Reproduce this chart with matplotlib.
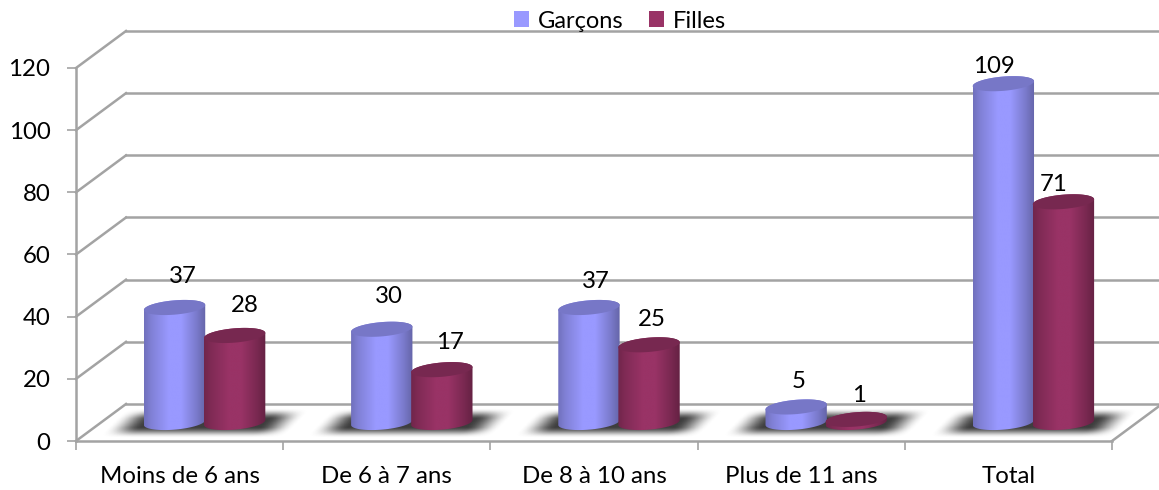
import matplotlib
matplotlib.use("Agg")
import matplotlib.pyplot as plt
from matplotlib.colors import to_rgb
from matplotlib.patches import Patch, Polygon
import numpy as np

CATEGORIES = ["Moins de 6 ans", "De 6 à 7 ans", "De 8 à 10 ans", "Plus de 11 ans", "Total"]
GARCONS = [37, 30, 37, 5, 109]
FILLES = [28, 17, 25, 1, 71]
Y_TICKS = [0, 20, 40, 60, 80, 100, 120]

BLUE = "#9999FF"
PLUM = "#993366"
GRID = "#A3A3A3"
FS = 17.3
W, H = 1159, 490

# pixel layout of the fake 3D box
LEFT, RIGHT, BOTTOM, TOP = 76, 1112, 441, 68
DX = 50 / ((RIGHT - LEFT) / 5)
DY = 37 / ((BOTTOM - TOP) / 120)
HALF_W = 0.148
BAR_GAP = 0.145
ELL_H = 2.3
SLOPE = 0.8

# label offsets from the top of each cylinder, in points
OFFS_G = [(6, 15), (5, 16), (5, 11), (2, 11), (-7, 5)]
OFFS_F = [(7, 14), (6, 12), (2, 11), (2, 10), (-7, 5)]

plt.rcParams["font.family"] = ["Lato", "DejaVu Sans"]


def ellipse(cx, cy, n=80):
    t = np.linspace(0, 2 * np.pi, n)
    return np.column_stack([cx + HALF_W * np.cos(t),
                            cy + ELL_H * np.sin(t) + SLOPE * np.cos(t)])


def body_path(cx, y0, y1, n=40):
    t = np.linspace(np.pi, 2 * np.pi, n)
    lower = np.column_stack([cx + HALF_W * np.cos(t),
                             y0 + ELL_H * np.sin(t) + SLOPE * np.cos(t)])
    t2 = np.linspace(0, np.pi, n)
    upper = np.column_stack([cx + HALF_W * np.cos(t2),
                             y1 + ELL_H * np.sin(t2) + SLOPE * np.cos(t2)])
    return np.vstack([lower, upper])


def cylinder(ax, cx, value, color, zorder):
    rgb = np.array(to_rgb(color))
    y0 = DY / 2
    y1 = y0 + value
    # shading across the width, dark at both edges
    u = np.linspace(0, 1, 128)
    shade = np.interp(u, [0, 0.12, 0.40, 0.60, 0.85, 1], [0.74, 0.84, 1, 1, 0.80, 0.66])
    img = (shade[:, None] * rgb)[None, :, :]
    im = ax.imshow(img, extent=[cx - HALF_W, cx + HALF_W, y0 - 5, y1 + 5], aspect="auto",
                   zorder=zorder, interpolation="bilinear")
    clip = Polygon(body_path(cx, y0, y1), closed=True, transform=ax.transData)
    im.set_clip_path(clip)
    im.set_clip_on(True)
    top = Polygon(ellipse(cx, y1), closed=True, facecolor=rgb * 0.78, edgecolor="none",
                  zorder=zorder + 0.1, clip_on=False)
    ax.add_patch(top)


def floor_shadow(ax, cx):
    # soft sheared shadow lying on the floor
    xs = np.linspace(-0.50, 0.50, 260)
    ys = np.linspace(-1, 1, 80)
    xx, yy = np.meshgrid(xs, ys)
    sheared = xx - yy * 0.07
    a = np.clip((0.45 - np.abs(sheared)) / 0.17, 0, 1)
    b = np.clip((1 - np.abs(yy)) / 0.75, 0, 1)
    alpha = (a * a * (3 - 2 * a)) * (b * b * (3 - 2 * b)) * 0.95
    img = np.zeros(xx.shape + (4,))
    img[..., :3] = 0.2
    img[..., 3] = alpha
    ymid = DY / 2 - 0.2
    ax.imshow(img, extent=[cx - 0.5, cx + 0.5, ymid - 4.8, ymid + 4.8], origin="lower",
              aspect="auto", zorder=2, clip_on=False, interpolation="bilinear")


fig = plt.figure(figsize=(W / 100, H / 100), dpi=100)
ax = fig.add_axes([LEFT / W, 1 - BOTTOM / H, (RIGHT - LEFT) / W, (BOTTOM - TOP) / H])
ax.patch.set_alpha(0)

# back wall lines and depth lines
for v in Y_TICKS:
    ax.plot([0, DX], [v, v + DY], color=GRID, lw=1.8, zorder=1, clip_on=False)
    ax.plot([DX, 5 + DX], [v + DY, v + DY], color=GRID, lw=1.8, zorder=1, clip_on=False)
ax.plot([5, 5 + DX], [0, DY], color=GRID, lw=1.8, zorder=1, clip_on=False)

centres = np.arange(len(CATEGORIES)) + 0.5 + DX / 2
for i, cx in enumerate(centres):
    floor_shadow(ax, cx)
    xg, xf = cx - BAR_GAP, cx + BAR_GAP
    cylinder(ax, xg, GARCONS[i], BLUE, 3)
    cylinder(ax, xf, FILLES[i], PLUM, 4)
    y0 = DY / 2
    ax.annotate(str(GARCONS[i]), (xg, y0 + GARCONS[i]), xytext=OFFS_G[i], textcoords="offset points",
                ha="center", va="bottom", fontsize=FS, color="black", zorder=6, annotation_clip=False)
    ax.annotate(str(FILLES[i]), (xf, y0 + FILLES[i]), xytext=OFFS_F[i], textcoords="offset points",
                ha="center", va="bottom", fontsize=FS, color="black", zorder=6, annotation_clip=False)

ax.set_xlim(0, 5)
ax.set_ylim(0, 120)
ax.set_yticks(Y_TICKS)
ax.set_xticks(range(6))
ax.set_xticklabels([])
ax.set_xticks(np.arange(5) + 0.5, labels=CATEGORIES, minor=True)
ax.tick_params(axis="x", which="major", length=6.5, width=1.2, color=GRID)
ax.tick_params(axis="x", which="minor", length=0, pad=18, labelsize=FS)
ax.tick_params(axis="y", length=6.5, width=1.2, color=GRID, labelsize=FS, pad=12)
for side in ["top", "right"]:
    ax.spines[side].set_visible(False)
for side in ["left", "bottom"]:
    ax.spines[side].set_color(GRID)
    ax.spines[side].set_linewidth(1.8)

handles = [Patch(facecolor=BLUE, label="Garçons"), Patch(facecolor=PLUM, label="Filles")]
fig.legend(handles=handles, loc="center", bbox_to_anchor=(620 / W, 1 - 21 / H), ncol=2,
           frameon=False, fontsize=17, handlelength=0.64, handleheight=0.64, handletextpad=0.35,
           columnspacing=1.1, borderpad=0, borderaxespad=0)

fig.savefig("out.png", dpi=100)
